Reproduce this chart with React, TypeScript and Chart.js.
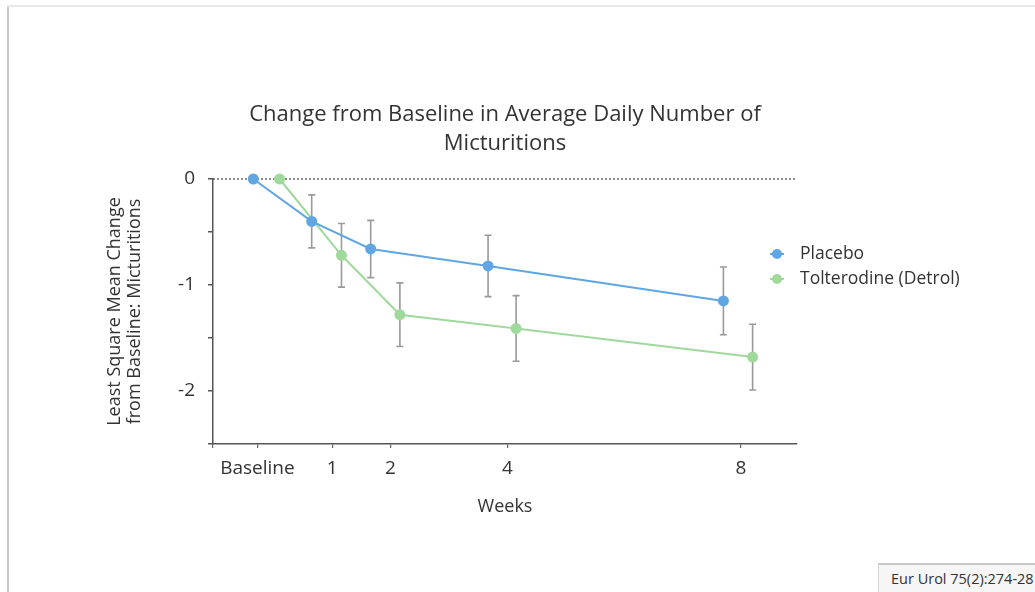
import React, { useEffect, useRef } from "react";
import { Chart, registerables } from "chart.js";

Chart.register(...registerables);

const FONT = "'Open Sans', Lato, sans-serif";

const titleLines = ["Change from Baseline in Average Daily Number of", "Micturitions"];
const yTitleLines = ["Least Square Mean Change", "from Baseline: Micturitions"];
const xTitle = "Weeks";
const seriesNames = ["Placebo", "Tolterodine (Detrol)"];
const seriesColors = ["#5fa6e3", "#9fd99c"];

// x positions in weeks (groups are slightly offset around each visit)
const placeboWeeks = [-0.35, 0.65, 1.66, 3.67, 7.7];
const placeboMean = [0, -0.4, -0.66, -0.82, -1.15];
const placeboErr = [0, 0.25, 0.27, 0.29, 0.32];

const tolWeeks = [0.1, 1.16, 2.16, 4.15, 8.2];
const tolMean = [0, -0.72, -1.28, -1.41, -1.68];
const tolErr = [0, 0.3, 0.3, 0.31, 0.31];

const xTickValues = [-1.04, -0.28, 1, 2, 4, 8];
const xTickLabels = ["", "Baseline", "1", "2", "4", "8"];
const yTickValues = [0, -0.5, -1, -1.5, -2, -2.5];
const yTickLabels = ["0", "", "-1", "", "-2", ""];

const errors = [placeboErr, tolErr];

const extrasPlugin = {
  id: "extras",
  beforeDatasetsDraw(chart: any) {
    const { ctx, chartArea, scales } = chart;
    const y0 = scales.y.getPixelForValue(0);
    ctx.save();
    // dotted zero reference line
    ctx.strokeStyle = "#444";
    ctx.lineWidth = 1.2;
    ctx.setLineDash([2, 2]);
    ctx.beginPath();
    ctx.moveTo(chartArea.left, y0);
    ctx.lineTo(chartArea.right, y0);
    ctx.stroke();
    ctx.setLineDash([]);
    // error bars
    ctx.strokeStyle = "#9a9a9a";
    ctx.lineWidth = 1.6;
    chart.data.datasets.forEach((ds: any, i: number) => {
      const meta = chart.getDatasetMeta(i);
      meta.data.forEach((el: any, j: number) => {
        const e = errors[i][j];
        if (!e) return;
        const v = ds.data[j].y;
        const yt = scales.y.getPixelForValue(v + e);
        const yb = scales.y.getPixelForValue(v - e);
        ctx.beginPath();
        ctx.moveTo(el.x, yt);
        ctx.lineTo(el.x, yb);
        ctx.moveTo(el.x - 3.5, yt);
        ctx.lineTo(el.x + 3.5, yt);
        ctx.moveTo(el.x - 3.5, yb);
        ctx.lineTo(el.x + 3.5, yb);
        ctx.stroke();
      });
    });
    ctx.restore();
  },
  afterDraw(chart: any) {
    const { ctx, chartArea } = chart;
    ctx.save();
    const lx = chartArea.right - 20;
    const ly = 254;
    chart.data.datasets.forEach((ds: any, i: number) => {
      const y = ly + i * 25;
      ctx.strokeStyle = ds.borderColor;
      ctx.lineWidth = 2;
      ctx.beginPath();
      ctx.moveTo(lx - 7, y);
      ctx.lineTo(lx + 7, y);
      ctx.stroke();
      ctx.fillStyle = ds.backgroundColor;
      ctx.beginPath();
      ctx.arc(lx, y, 5, 0, Math.PI * 2);
      ctx.fill();
      ctx.fillStyle = "#333";
      ctx.font = `17.5px ${FONT}`;
      ctx.textBaseline = "middle";
      ctx.textAlign = "left";
      ctx.fillText(ds.label, lx + 23, y);
    });
    ctx.restore();
  },
};

export default function App() {
  const ref = useRef<HTMLCanvasElement | null>(null);

  useEffect(() => {
    if (!ref.current) return;
    const mk = (xs: number[], ys: number[]) => xs.map((x, i) => ({ x, y: ys[i] }));
    const chart = new Chart(ref.current, {
      type: "line",
      data: {
        datasets: [
          {
            label: seriesNames[0],
            data: mk(placeboWeeks, placeboMean),
            borderColor: seriesColors[0],
            backgroundColor: seriesColors[0],
            pointBackgroundColor: seriesColors[0],
            pointBorderWidth: 0,
            pointRadius: 5.5,
            borderWidth: 2,
            tension: 0,
            clip: false as any,
          },
          {
            label: seriesNames[1],
            data: mk(tolWeeks, tolMean),
            borderColor: seriesColors[1],
            backgroundColor: seriesColors[1],
            pointBackgroundColor: seriesColors[1],
            pointBorderWidth: 0,
            pointRadius: 5.5,
            borderWidth: 2,
            tension: 0,
            clip: false as any,
          },
        ],
      },
      options: {
        animation: false,
        responsive: true,
        maintainAspectRatio: false,
        layout: { padding: { left: 100, right: 238, top: 100, bottom: 74 } },
        plugins: {
          legend: { display: false },
          tooltip: { enabled: false },
          title: {
            display: true,
            text: titleLines,
            fullSize: false,
            color: "#333",
            font: { family: FONT, size: 22, weight: "normal" as any, lineHeight: 29 / 22 },
            padding: { top: 0, bottom: 21 },
          },
        },
        scales: {
          x: {
            type: "linear",
            min: -1.04,
            max: 8.96,
            afterBuildTicks: (s: any) => {
              s.ticks = xTickValues.map((v) => ({ value: v }));
            },
            afterFit: (s: any) => {
              s.height = 74;
            },
            ticks: {
              autoSkip: false,
              maxRotation: 0,
              padding: 9,
              color: "#333",
              font: { family: FONT, size: 19 },
              callback: (_v: any, i: number) => xTickLabels[i],
            },
            grid: { drawOnChartArea: false, drawTicks: true, tickLength: 4, color: "#666", lineWidth: 1.2 },
            border: { color: "#555", width: 1.5 },
            title: {
              display: true,
              text: xTitle,
              color: "#333",
              font: { family: FONT, size: 18, lineHeight: 1.2 },
              padding: { top: 0, bottom: 0 },
            },
          },
          y: {
            type: "linear",
            min: -2.5,
            max: 0,
            afterBuildTicks: (s: any) => {
              s.ticks = yTickValues.map((v) => ({ value: v }));
            },
            afterFit: (s: any) => {
              s.width = 113;
            },
            ticks: {
              autoSkip: false,
              padding: 13,
              color: "#333",
              font: { family: FONT, size: 19 },
              callback: (_v: any, i: number) => yTickLabels[i],
            },
            grid: { drawOnChartArea: false, drawTicks: true, tickLength: 5, color: "#555", lineWidth: 1.5 },
            border: { color: "#555", width: 1.5 },
            title: {
              display: true,
              text: yTitleLines,
              color: "#333",
              font: { family: FONT, size: 18, lineHeight: 20 / 18 },
              padding: { top: 5, bottom: 0 },
            },
          },
        },
      },
      plugins: [extrasPlugin],
    });
    return () => chart.destroy();
  }, []);

  return (
    <div
      style={{
        position: "fixed",
        left: 0,
        top: 0,
        width: 1035,
        height: 592,
        overflow: "hidden",
        background: "#fff",
      }}
    >
      <div style={{ position: "absolute", left: 7, top: 5, width: 1.5, bottom: 0, background: "#c6c6c6" }} />
      <div style={{ position: "absolute", left: 7, top: 5, right: 0, height: 1.5, background: "#e8e8e8" }} />
      <div style={{ position: "absolute", left: 0, top: 0, width: 1035, height: 592 }}>
        <canvas ref={ref} />
      </div>
      <div
        style={{
          position: "absolute",
          left: 878,
          top: 563,
          width: 200,
          height: 40,
          borderTop: "2px solid #c9c9c9",
          borderLeft: "1px solid #d6d6d6",
          background: "#f6f6f6",
          boxSizing: "border-box",
          paddingLeft: 12,
          paddingTop: 4,
          fontFamily: FONT,
          fontSize: 14.5,
          color: "#333",
          whiteSpace: "nowrap",
        }}
      >
        Eur Urol 75(2):274-28
      </div>
    </div>
  );
}
